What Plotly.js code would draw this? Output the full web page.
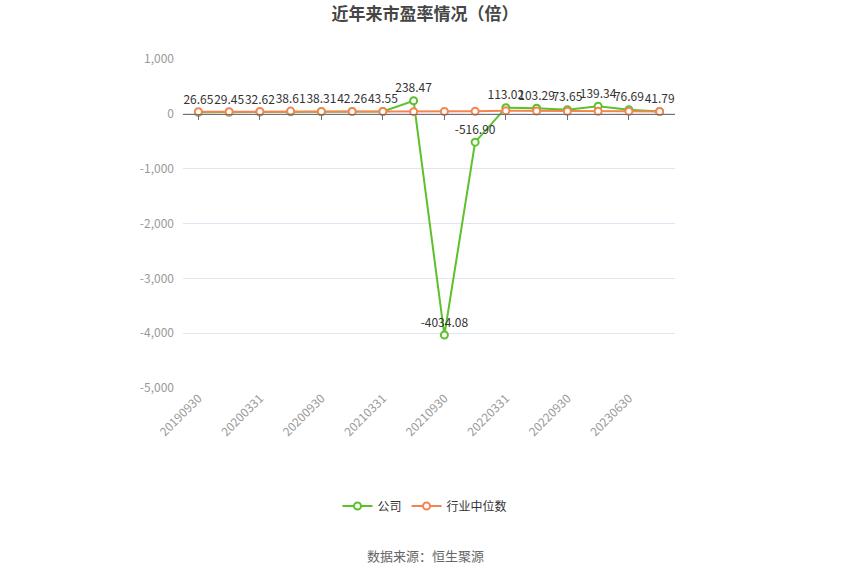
<!DOCTYPE html>
<html>
<head>
<meta charset="utf-8">
<script src="https://cdn.plot.ly/plotly-3.0.1.min.js"></script>
<style>
  html, body { margin: 0; padding: 0; background: #fff; }
  #chart { width: 850px; height: 575px; }
</style>
</head>
<body>
<div id="chart"></div>
<script>
// report dates (one quarter is absent between 20220930 and 20230630 in the source)
const periods = [
    "20190930", "20191231", "20200331", "20200630", "20200930", "20201231",
    "20210331", "20210630", "20210930", "20211231", "20220331", "20220630",
    "20220930", "20221231", "20230630", "20230930"
];
const companyPE = [
    26.65, 29.45, 32.62, 38.61, 38.31, 42.26, 43.55, 238.47,
    -4034.08, -516.90, 113.02, 103.29, 73.65, 139.34, 76.69, 41.79
];
const industryPE = [
    38, 40, 42, 50, 44, 44, 42, 40,
    42, 48, 58, 52, 46, 47, 45, 42
];
const yTickVals = [1000, 0, -1000, -2000, -3000, -4000, -5000];
const yTickText = ["1,000", "0", "-1,000", "-2,000", "-3,000", "-4,000", "-5,000"];

const shownPeriods = periods.filter((p, i) => i % 2 === 0);
const font = "Noto Sans CJK SC, Noto Sans, sans-serif";
const green = "#5cc12b";
const orange = "#f5854e";

const companyTrace = {
    x: periods,
    y: companyPE,
    type: "scatter",
    mode: "lines+markers+text",
    name: "公司",
    text: companyPE.map(v => v.toFixed(2)),
    textposition: "top center",
    textfont: {family: font, size: 12, color: "#333"},
    line: {color: green, width: 2},
    marker: {symbol: "circle", size: 7, color: "#fff", line: {color: green, width: 2}},
    cliponaxis: false,
    hoverinfo: "x+y"
};

const industryTrace = {
    x: periods,
    y: industryPE,
    xaxis: "x2",
    type: "scatter",
    mode: "lines+markers",
    name: "行业中位数",
    line: {color: orange, width: 2},
    marker: {symbol: "circle", size: 7, color: "#fff", line: {color: orange, width: 2}},
    cliponaxis: false,
    hoverinfo: "x+y"
};

const layout = {
    width: 850,
    height: 575,
    margin: {l: 183, r: 175, t: 59, b: 187, autoexpand: false},
    paper_bgcolor: "#fff",
    plot_bgcolor: "#fff",
    font: {family: font, size: 12, color: "#999"},
    title: {
        text: "<b>近年来市盈率情况（倍）</b>",
        font: {family: font, size: 17, color: "#464646"},
        x: 0.5,
        xref: "container",
        y: 1 - 14 / 575,
        yanchor: "middle"
    },
    xaxis: {
        type: "category",
        range: [-0.5, periods.length - 0.5],
        tickvals: shownPeriods,
        ticktext: shownPeriods,
        tickangle: -45,
        tickfont: {family: font, size: 12, color: "#999"},
        showgrid: false,
        showline: false,
        zeroline: false,
        ticks: "",
        fixedrange: true
    },
    xaxis2: {
        type: "category",
        overlaying: "x",
        matches: "x",
        anchor: "free",
        position: 5000 / 6000,
        side: "bottom",
        range: [-0.5, periods.length - 0.5],
        tickvals: shownPeriods,
        showticklabels: false,
        showline: true,
        linecolor: "#6e7079",
        linewidth: 1,
        ticks: "outside",
        ticklen: 5,
        tickcolor: "#6e7079",
        showgrid: false,
        zeroline: false
    },
    yaxis: {
        range: [-5000, 1000],
        tickvals: yTickVals,
        ticktext: yTickText,
        tickfont: {family: font, size: 12, color: "#999"},
        gridcolor: "#e0e6f1",
        gridwidth: 1,
        showline: false,
        zeroline: false,
        ticks: "",
        ticklabelstandoff: 8,
        fixedrange: true
    },
    showlegend: true,
    legend: {
        orientation: "h",
        x: (425 - 183) / 492,
        xanchor: "center",
        xref: "paper",
        y: 1 - 506 / 575,
        yref: "container",
        yanchor: "middle",
        font: {family: font, size: 12, color: "#333"}
    },
    annotations: [{
        text: "数据来源：恒生聚源",
        xref: "paper",
        yref: "paper",
        x: (425 - 183) / 492,
        y: (388 - 555) / 329,
        xanchor: "center",
        yanchor: "middle",
        showarrow: false,
        font: {family: font, size: 13, color: "#666"}
    }]
};

Plotly.newPlot("chart", [companyTrace, industryTrace], layout, {displayModeBar: false, staticPlot: true});
</script>
</body>
</html>
